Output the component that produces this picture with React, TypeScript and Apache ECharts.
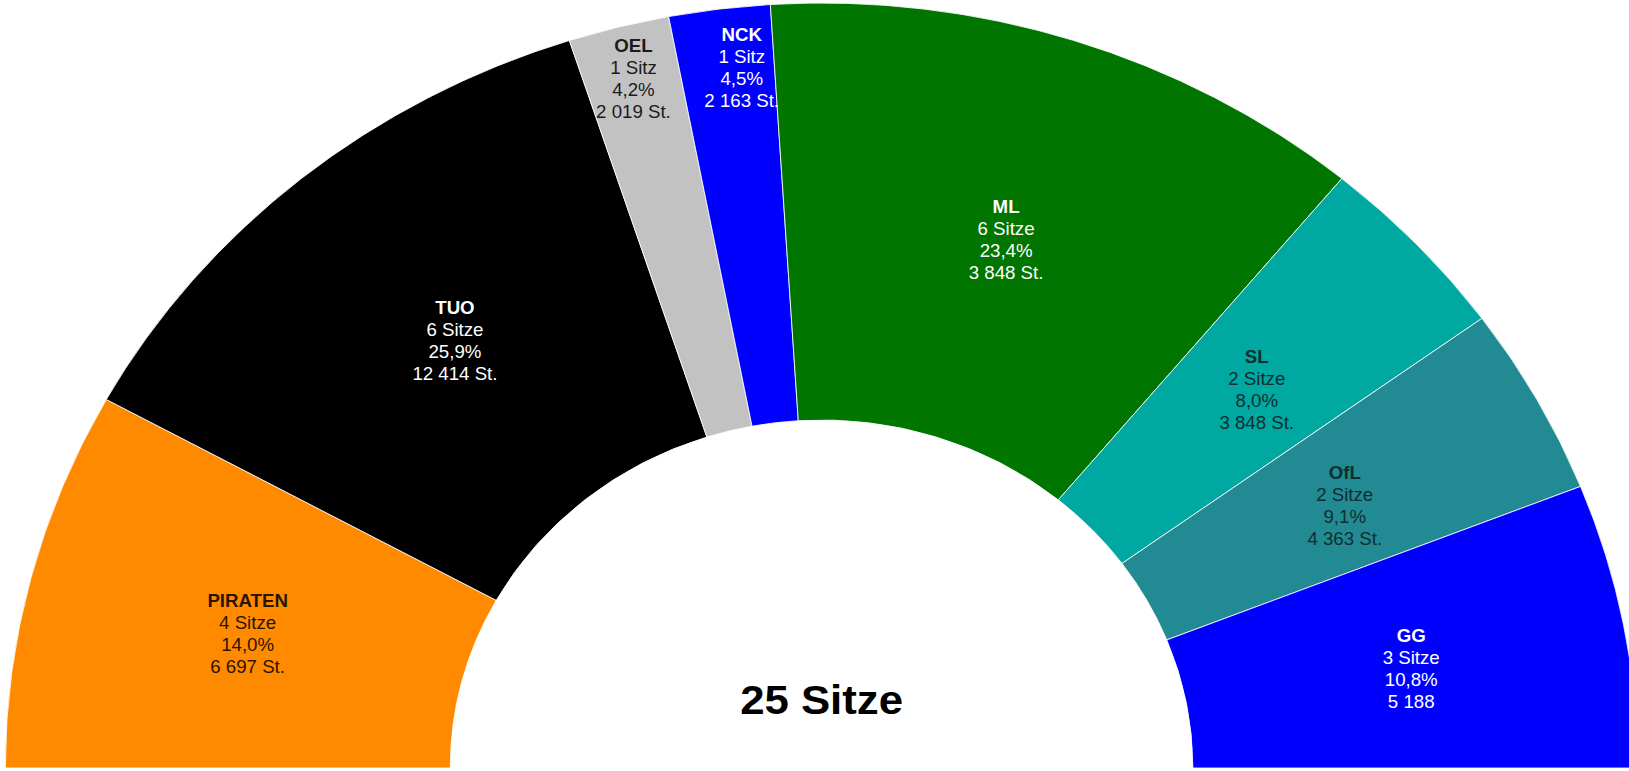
import React, { useEffect, useRef } from "react";
import * as echarts from "echarts";

const parties = ["PIRATEN", "TUO", "OEL", "NCK", "ML", "SL", "OfL", "GG"];
const seats = [4, 6, 1, 1, 6, 2, 2, 3];
const percents = ["14,0%", "25,9%", "4,2%", "4,5%", "23,4%", "8,0%", "9,1%", "10,8%"];
const votes = ["6 697 St.", "12 414 St.", "2 019 St.", "2 163 St.", "3 848 St.", "3 848 St.", "4 363 St.", "5 188"];
const colors = ["#FF8A00", "#000000", "#C2C2C2", "#0000FF", "#007500", "#00A8A2", "#228A92", "#0000FF"];
const labelColors = ["#2a1500", "#FFFFFF", "#1a1a1a", "#FFFFFF", "#FFFFFF", "#0f2e30", "#0f2e30", "#FFFFFF"];
const outerLabelParties = ["OEL", "NCK"];
const totalText = "25 Sitze";

// small per-label nudges (style only)
const labelShiftX = [4, 13, 0, 14, 0, 0, 0, 3];
const labelShiftY = [5, 4, -2, 4, 4, 5, 8, 6];

const STRETCH = 1.067;
const W = Math.round(1629 / STRETCH);
const H = 771;
const CX = 770;
const CY = 768;
const R_OUT = 765;
const R_IN = 348;
const FONT = "Arial, 'Liberation Sans', sans-serif";

function seatText(n: number) {
  return n === 1 ? "1 Sitz" : n + " Sitze";
}

export default function App() {
  const ref = useRef<HTMLDivElement>(null);
  useEffect(() => {
    if (!ref.current) return;
    const chart = echarts.init(ref.current, undefined, { renderer: "svg" });
    const fmt = (p: any) => {
      const i = p.dataIndex;
      return `{b|${parties[i]}}\n${seatText(seats[i])}\n${percents[i]}\n${votes[i]}`;
    };
    const labelBase = {
      position: "inside" as const,
      fontFamily: FONT,
      fontSize: 17.5,
      lineHeight: 22,
      formatter: fmt,
      rich: { b: { fontWeight: "bold" as const, fontSize: 17.5, lineHeight: 22 } },
    };
    const layout = (params: any) => ({
      dx: labelShiftX[params.dataIndex],
      dy: labelShiftY[params.dataIndex],
    });
    const mainData = parties.map((name, i) => ({
      name,
      value: seats[i],
      itemStyle: { color: colors[i] },
      label: {
        show: !outerLabelParties.includes(name),
        color: labelColors[i],
      },
    }));
    const overlayData = parties.map((name, i) => ({
      name,
      value: seats[i],
      itemStyle: { color: "rgba(0,0,0,0)", borderWidth: 0 },
      label: {
        show: outerLabelParties.includes(name),
        color: labelColors[i],
      },
    }));
    chart.setOption({
      animation: false,
      backgroundColor: "#ffffff",
      series: [
        {
          type: "pie",
          center: [CX, CY],
          radius: [R_IN, R_OUT],
          startAngle: 180,
          endAngle: 0,
          clockwise: true,
          avoidLabelOverlap: false,
          silent: true,
          itemStyle: { borderColor: "#ffffff", borderWidth: 0.8 },
          label: labelBase,
          labelLine: { show: false },
          labelLayout: layout,
          data: mainData,
        },
        {
          type: "pie",
          center: [CX, CY],
          radius: [647, R_OUT],
          startAngle: 180,
          endAngle: 0,
          clockwise: true,
          avoidLabelOverlap: false,
          silent: true,
          label: labelBase,
          labelLine: { show: false },
          labelLayout: layout,
          data: overlayData,
          z: 3,
        },
      ],
      graphic: [
        {
          type: "text",
          x: CX,
          y: 700,
          style: {
            text: totalText,
            fontFamily: FONT,
            fontWeight: "bold",
            fontSize: 41,
            fill: "#000000",
            textAlign: "center",
            textVerticalAlign: "middle",
          },
        },
      ],
    });
    return () => chart.dispose();
  }, []);
  return (
    <div
      ref={ref}
      style={{
        position: "absolute",
        left: 0,
        top: 0,
        width: W + "px",
        height: H + "px",
        transform: `scaleX(${STRETCH})`,
        transformOrigin: "0 0",
      }}
    />
  );
}
